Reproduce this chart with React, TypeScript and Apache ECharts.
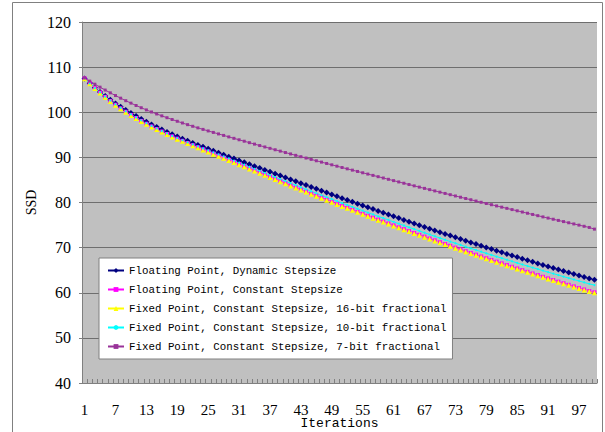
import React, { useEffect, useRef } from "react";
import * as echarts from "echarts";

const iterations: string[] = Array.from({ length: 100 }, (_, i) => String(i + 1));

const yTicks = { min: 40, max: 120, interval: 10 };

const dynamicFloat: number[] = [
  107.5, 106.45, 105.45, 104.5, 103.6, 102.75, 101.95, 101.2, 100.5, 99.82,
  99.16, 98.52, 97.9, 97.3, 96.72, 96.16, 95.62, 95.1, 94.6, 94.12,
  93.66, 93.21, 92.77, 92.34, 91.9, 91.46, 91.02, 90.58, 90.16, 89.74,
  89.32, 88.9, 88.48, 88.06, 87.64, 87.22, 86.8, 86.38, 85.96, 85.54,
  85.12, 84.7, 84.28, 83.86, 83.44, 83.02, 82.6, 82.19, 81.78, 81.37,
  80.96, 80.55, 80.14, 79.74, 79.34, 78.94, 78.54, 78.14, 77.74, 77.34,
  76.94, 76.54, 76.14, 75.75, 75.36, 74.97, 74.58, 74.19, 73.8, 73.42,
  73.04, 72.66, 72.28, 71.9, 71.53, 71.16, 70.79, 70.42, 70.05, 69.69,
  69.33, 68.97, 68.61, 68.25, 67.9, 67.55, 67.2, 66.85, 66.5, 66.16,
  65.82, 65.48, 65.14, 64.8, 64.46, 64.13, 63.8, 63.47, 63.14, 62.9,
];

const constantFloat: number[] = [
  107.5, 106.42, 105.37, 104.37, 103.42, 102.52, 101.67, 100.87, 100.12, 99.41,
  98.73, 98.08, 97.46, 96.86, 96.28, 95.72, 95.18, 94.66, 94.16, 93.67,
  93.19, 92.72, 92.25, 91.78, 91.31, 90.84, 90.37, 89.9, 89.43, 88.96,
  88.49, 88.02, 87.55, 87.08, 86.61, 86.14, 85.67, 85.2, 84.73, 84.26,
  83.8, 83.34, 82.88, 82.42, 81.96, 81.5, 81.05, 80.6, 80.15, 79.7,
  79.26, 78.82, 78.38, 77.94, 77.5, 77.07, 76.64, 76.21, 75.78, 75.35,
  74.93, 74.51, 74.09, 73.67, 73.25, 72.84, 72.43, 72.02, 71.61, 71.2,
  70.8, 70.4, 70.0, 69.6, 69.21, 68.82, 68.43, 68.04, 67.65, 67.27,
  66.89, 66.51, 66.13, 65.75, 65.38, 65.01, 64.64, 64.27, 63.9, 63.54,
  63.18, 62.82, 62.46, 62.11, 61.76, 61.41, 61.06, 60.72, 60.38, 60.1,
];

const fixed16: number[] = [
  107.4, 106.3, 105.25, 104.25, 103.3, 102.4, 101.55, 100.75, 100.0, 99.29,
  98.61, 97.96, 97.34, 96.74, 96.16, 95.6, 95.06, 94.54, 94.04, 93.55,
  93.07, 92.6, 92.13, 91.66, 91.19, 90.72, 90.25, 89.78, 89.31, 88.84,
  88.37, 87.9, 87.43, 86.96, 86.49, 86.02, 85.55, 85.08, 84.61, 84.14,
  83.68, 83.22, 82.76, 82.3, 81.84, 81.38, 80.93, 80.48, 80.03, 79.58,
  79.14, 78.7, 78.26, 77.82, 77.38, 76.95, 76.52, 76.09, 75.66, 75.23,
  74.81, 74.39, 73.97, 73.55, 73.13, 72.72, 72.31, 71.9, 71.49, 71.08,
  70.68, 70.28, 69.88, 69.48, 69.09, 68.7, 68.31, 67.92, 67.53, 67.15,
  66.77, 66.39, 66.01, 65.63, 65.26, 64.89, 64.52, 64.15, 63.78, 63.42,
  63.06, 62.7, 62.34, 61.99, 61.64, 61.29, 60.94, 60.6, 60.3, 60.0,
];

const fixed10: number[] = [
  107.5, 106.4, 105.37, 104.39, 103.46, 102.58, 101.74, 100.95, 100.21, 99.51,
  98.84, 98.2, 97.58, 96.98, 96.4, 95.84, 95.3, 94.78, 94.28, 93.8,
  93.33, 92.87, 92.42, 91.98, 91.54, 91.1, 90.66, 90.22, 89.76, 89.3,
  88.84, 88.38, 87.92, 87.46, 87.0, 86.54, 86.08, 85.62, 85.17, 84.72,
  84.27, 83.82, 83.37, 82.92, 82.48, 82.04, 81.6, 81.17, 80.74, 80.31,
  79.88, 79.45, 79.03, 78.61, 78.19, 77.77, 77.35, 76.94, 76.53, 76.12,
  75.71, 75.3, 74.9, 74.5, 74.1, 73.7, 73.3, 72.91, 72.52, 72.13,
  71.74, 71.35, 70.97, 70.59, 70.21, 69.84, 69.47, 69.1, 68.74, 68.38,
  68.02, 67.66, 67.31, 66.96, 66.61, 66.26, 65.92, 65.58, 65.24, 64.9,
  64.57, 64.24, 63.91, 63.58, 63.25, 62.93, 62.61, 62.29, 61.97, 61.7,
];

const fixed7: number[] = [
  107.6, 106.9, 106.22, 105.56, 104.92, 104.3, 103.7, 103.12, 102.56, 102.02,
  101.5, 101.0, 100.52, 100.06, 99.62, 99.2, 98.79, 98.39, 98.0, 97.62,
  97.25, 96.89, 96.54, 96.2, 95.86, 95.53, 95.2, 94.87, 94.54, 94.22,
  93.9, 93.58, 93.26, 92.94, 92.62, 92.31, 92.0, 91.69, 91.38, 91.07,
  90.76, 90.45, 90.15, 89.85, 89.55, 89.25, 88.95, 88.65, 88.35, 88.05,
  87.75, 87.46, 87.17, 86.88, 86.59, 86.3, 86.01, 85.72, 85.43, 85.14,
  84.85, 84.56, 84.27, 83.98, 83.69, 83.41, 83.13, 82.85, 82.57, 82.29,
  82.01, 81.73, 81.45, 81.17, 80.89, 80.61, 80.33, 80.05, 79.78, 79.51,
  79.24, 78.97, 78.7, 78.43, 78.16, 77.89, 77.62, 77.35, 77.08, 76.81,
  76.55, 76.29, 76.03, 75.77, 75.51, 75.25, 74.99, 74.73, 74.47, 74.1,
];

const seriesNames = [
  "Floating Point, Dynamic Stepsize",
  "Floating Point, Constant Stepsize",
  "Fixed Point, Constant Stepsize, 16-bit fractional",
  "Fixed Point, Constant Stepsize, 10-bit fractional",
  "Fixed Point, Constant Stepsize, 7-bit fractional",
];

export default function App() {
  const ref = useRef<HTMLDivElement>(null);
  useEffect(() => {
    if (!ref.current) return;
    const chart = echarts.init(ref.current, null, {
      renderer: "svg",
      width: 605,
      height: 432,
    });
    const serif = "'Liberation Serif', 'DejaVu Serif', serif";
    const mono = "'Liberation Mono', 'DejaVu Sans Mono', monospace";
    const mk = (
      name: string,
      data: number[],
      color: string,
      symbol: string,
      symbolSize: number
    ) => ({
      name,
      type: "line",
      data,
      symbol,
      symbolSize,
      showSymbol: true,
      showAllSymbol: true,
      itemStyle: { color, borderWidth: 0 },
      lineStyle: { color, width: 1 },
      emphasis: { disabled: true },
    });
    chart.setOption({
      animation: false,
      backgroundColor: "#ffffff",
      graphic: [
        {
          type: "rect",
          shape: { x: 12.5, y: 2.5, width: 590, height: 440 },
          style: { fill: "none", stroke: "#808080", lineWidth: 1 },
          silent: true,
        },
      ],
      grid: {
        left: 82,
        top: 22,
        right: 8,
        bottom: 49,
        show: true,
        backgroundColor: "#c0c0c0",
        borderWidth: 0,
        containLabel: false,
        outerBoundsMode: "none",
      },
      legend: {
        orient: "vertical",
        left: 99,
        top: 258,
        backgroundColor: "#ffffff",
        borderColor: "#808080",
        borderWidth: 1,
        borderRadius: 0,
        padding: [7, 6, 7, 8],
        itemWidth: 16,
        itemHeight: 6,
        itemGap: 8,
        textStyle: { fontFamily: mono, fontSize: 10.8, color: "#000" },
        data: seriesNames,
      },
      xAxis: {
        type: "category",
        data: iterations,
        boundaryGap: true,
        name: "Iterations",
        nameLocation: "middle",
        nameGap: 34,
        nameMoveOverlap: false,
        nameTextStyle: {
          fontFamily: mono,
          fontSize: 13,
          color: "#000",
          verticalAlign: "top",
        },
        axisLine: { lineStyle: { color: "#808080", width: 1 } },
        axisTick: {
          show: true,
          inside: true,
          length: 4,
          interval: 0,
          lineStyle: { color: "#808080" },
        },
        axisLabel: {
          interval: 5,
          margin: 19,
          fontFamily: serif,
          fontSize: 15,
          color: "#000",
        },
        splitLine: { show: false },
      },
      yAxis: {
        type: "value",
        min: yTicks.min,
        max: yTicks.max,
        interval: yTicks.interval,
        name: "SSD",
        nameLocation: "middle",
        nameGap: 44,
        nameMoveOverlap: false,
        nameTextStyle: { fontFamily: serif, fontSize: 14, color: "#000" },
        axisLine: { show: true, lineStyle: { color: "#808080", width: 1 } },
        axisTick: { show: true, length: 3, lineStyle: { color: "#808080" } },
        axisLabel: { margin: 11, fontFamily: serif, fontSize: 16, color: "#000" },
        splitLine: { show: true, lineStyle: { color: "#6e6e6e", width: 1 } },
      },
      series: [
        mk(seriesNames[0], dynamicFloat, "#000080", "diamond", 6),
        mk(seriesNames[1], constantFloat, "#ff00ff", "rect", 4),
        mk(seriesNames[2], fixed16, "#ffff00", "triangle", 5),
        mk(seriesNames[3], fixed10, "#00ffff", "circle", 2),
        mk(seriesNames[4], fixed7, "#993399", "rect", 3),
      ],
    });
    return () => chart.dispose();
  }, []);
  return (
    <div
      ref={ref}
      style={{ position: "absolute", left: 0, top: 0, width: 605, height: 432 }}
    />
  );
}
